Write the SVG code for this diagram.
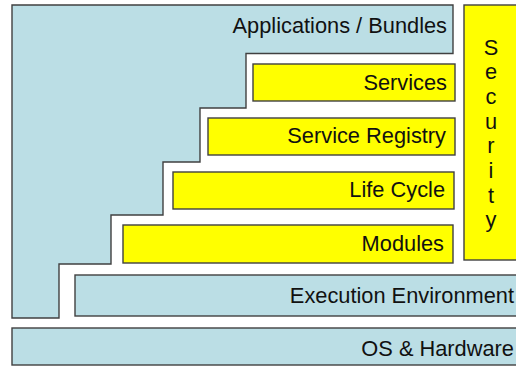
<svg xmlns="http://www.w3.org/2000/svg" width="516" height="366" viewBox="0 0 516 366">
<style>
.b{fill:#bbdee5;stroke:#404040;stroke-width:1.4}
.y{fill:#ffff00;stroke:#404040;stroke-width:1.4}
text{font-family:"Liberation Sans",Arial,sans-serif;font-size:21.8px;fill:#111}
.r{text-anchor:end}
.m{text-anchor:middle}
</style>
<rect width="516" height="366" fill="#fff"/>
<g id="applications">
<path class="b" d="M12 5 H453 V53.5 H246 V108 H200 V162 H163 V215 H111 V264 H59 V318 H12 Z"/>
<text class="r" x="447" y="33">Applications / Bundles</text>
</g>
<g id="services">
<rect class="y" x="253" y="64" width="202" height="37"/>
<text class="r" x="447" y="90">Services</text>
</g>
<g id="service-registry">
<rect class="y" x="208" y="118" width="247" height="37"/>
<text class="r" x="446" y="143">Service Registry</text>
</g>
<g id="life-cycle">
<rect class="y" x="173" y="172" width="281" height="37"/>
<text class="r" x="445" y="197">Life Cycle</text>
</g>
<g id="modules">
<rect class="y" x="123" y="225" width="330" height="38"/>
<text class="r" x="444" y="251">Modules</text>
</g>
<g id="security">
<rect class="y" x="464" y="5" width="60" height="255"/>
<text class="m" x="491" y="55">S</text>
<text class="m" x="491" y="79">e</text>
<text class="m" x="491" y="104">c</text>
<text class="m" x="491" y="129">u</text>
<text class="m" x="491" y="153">r</text>
<text class="m" x="491" y="178">i</text>
<text class="m" x="491" y="203">t</text>
<text class="m" x="491" y="227">y</text>
</g>
<g id="execution-environment">
<rect class="b" x="75" y="275" width="460" height="41"/>
<text class="r" x="514" y="303">Execution Environment</text>
</g>
<g id="os-hardware">
<rect class="b" x="12" y="328" width="520" height="37"/>
<text class="r" x="514" y="356">OS &amp; Hardware</text>
</g>
<g id="connectors"/>
</svg>
